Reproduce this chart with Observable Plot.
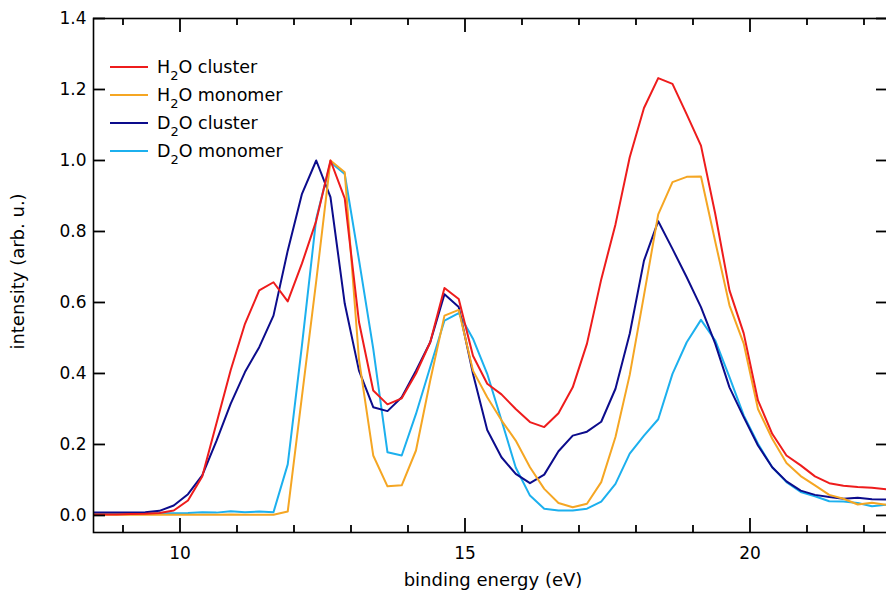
<!DOCTYPE html>
<html><head><meta charset="utf-8">
<script src="https://cdn.jsdelivr.net/npm/d3@7"></script>
<script src="https://cdn.jsdelivr.net/npm/@observablehq/plot@0.6"></script>
<style>
body{margin:0;background:#fff;}
#wrap{position:relative;width:886px;height:593px;font-family:"DejaVu Sans",sans-serif;}
.legend{position:absolute;left:110px;top:53px;}
.row{display:flex;align-items:center;height:28px;font-size:17.5px;color:#000;white-space:nowrap;}
.swatch{width:38px;height:2px;margin-right:9px;}
.sub{font-size:13px;position:relative;top:7px;}
</style></head>
<body><div id="wrap"></div>
<script>
const energy = [8.39, 8.64, 8.89, 9.14, 9.39, 9.64, 9.89, 10.14, 10.39, 10.64, 10.89, 11.14, 11.39, 11.64, 11.89, 12.14, 12.39, 12.64, 12.89, 13.14, 13.39, 13.64, 13.89, 14.14, 14.39, 14.64, 14.89, 15.14, 15.39, 15.64, 15.89, 16.14, 16.39, 16.64, 16.89, 17.14, 17.39, 17.64, 17.89, 18.14, 18.39, 18.64, 18.89, 19.14, 19.39, 19.64, 19.89, 20.14, 20.39, 20.64, 20.89, 21.14, 21.39, 21.64, 21.89, 22.14, 22.39];

const h2oCluster = [0.003, 0.003, 0.003, 0.004, 0.005, 0.007, 0.014, 0.042, 0.11, 0.26, 0.41, 0.54, 0.634, 0.657, 0.603, 0.71, 0.83, 1.0, 0.893, 0.545, 0.352, 0.313, 0.33, 0.40, 0.488, 0.641, 0.61, 0.45, 0.371, 0.341, 0.30, 0.263, 0.249, 0.288, 0.361, 0.484, 0.665, 0.82, 1.009, 1.148, 1.232, 1.216, 1.13, 1.042, 0.85, 0.634, 0.513, 0.324, 0.23, 0.169, 0.141, 0.11, 0.091, 0.084, 0.08, 0.078, 0.074];

const h2oMonomer = [0.002, 0.002, 0.002, 0.002, 0.002, 0.002, 0.002, 0.002, 0.002, 0.002, 0.003, 0.002, 0.002, 0.002, 0.011, 0.336, 0.66, 1.0, 0.967, 0.44, 0.169, 0.082, 0.085, 0.183, 0.38, 0.563, 0.579, 0.408, 0.333, 0.268, 0.211, 0.136, 0.075, 0.035, 0.023, 0.033, 0.094, 0.221, 0.396, 0.62, 0.848, 0.939, 0.954, 0.955, 0.772, 0.592, 0.484, 0.30, 0.216, 0.148, 0.111, 0.085, 0.058, 0.047, 0.031, 0.036, 0.03];

const d2oCluster = [0.008, 0.008, 0.008, 0.008, 0.009, 0.013, 0.028, 0.06, 0.113, 0.21, 0.315, 0.404, 0.474, 0.563, 0.746, 0.906, 1.0, 0.897, 0.597, 0.408, 0.305, 0.294, 0.333, 0.408, 0.488, 0.623, 0.587, 0.399, 0.241, 0.164, 0.117, 0.091, 0.115, 0.181, 0.225, 0.236, 0.264, 0.357, 0.512, 0.718, 0.829, 0.751, 0.671, 0.587, 0.484, 0.361, 0.277, 0.197, 0.136, 0.096, 0.070, 0.058, 0.052, 0.047, 0.05, 0.046, 0.045];

const d2oMonomer = [0.004, 0.004, 0.005, 0.005, 0.005, 0.006, 0.006, 0.007, 0.009, 0.008, 0.012, 0.009, 0.011, 0.009, 0.144, 0.48, 0.836, 0.995, 0.962, 0.72, 0.47, 0.178, 0.169, 0.286, 0.418, 0.549, 0.57, 0.498, 0.399, 0.268, 0.135, 0.056, 0.019, 0.014, 0.014, 0.019, 0.039, 0.089, 0.174, 0.225, 0.271, 0.399, 0.488, 0.551, 0.493, 0.39, 0.282, 0.202, 0.136, 0.094, 0.066, 0.054, 0.04, 0.039, 0.035, 0.026, 0.03];

const seriesNames = ["H2O cluster", "H2O monomer", "D2O cluster", "D2O monomer"];
const seriesColors = ["#ee1c1c", "#f5a623", "#0c0c8c", "#1cb0ee"];
const seriesValues = [h2oCluster, h2oMonomer, d2oCluster, d2oMonomer];

const xMajorTicks = [10, 15, 20];
const xMinorTicks = [9, 11, 12, 13, 14, 16, 17, 18, 19, 21, 22];
const yTicks = [0, 0.2, 0.4, 0.6, 0.8, 1.0, 1.2, 1.4];
const xLabel = "binding energy (eV)";
const yLabel = "intensity (arb. u.)";

const drawOrder = [3, 2, 1, 0];
const fmt = d3.format(".1f");
const font = "DejaVu Sans";

const W = 886, H = 593, mL = 93, mR = -2, mT = 18, mB = 61;
const frameW = W - mL - mR, frameH = H - mT - mB;
const majorLen = 14, minorLen = 7, yLen = 12;
const tickStyle = {stroke: "black", strokeWidth: 1.8};

const plot = Plot.plot({
  width: W, height: H,
  marginLeft: mL, marginRight: mR, marginTop: mT, marginBottom: mB,
  style: {fontFamily: font, fontSize: "17px", background: "white", color: "black", overflow: "hidden"},
  x: {domain: [8.4825, 22.43], axis: null},
  y: {domain: [-0.048, 1.4], axis: null},
  marks: [
    ...drawOrder.map(i => Plot.line(seriesValues[i], {x: energy, y: d => d, stroke: seriesColors[i], strokeWidth: 2, clip: true})),
    Plot.frame({stroke: "black", strokeWidth: 1.6}),
    // inward ticks, bottom
    Plot.ruleX(xMajorTicks, {x: d => d, insetTop: frameH - majorLen, ...tickStyle}),
    Plot.ruleX(xMinorTicks, {x: d => d, insetTop: frameH - minorLen, ...tickStyle}),
    // inward ticks, top
    Plot.ruleX(xMajorTicks, {x: d => d, insetBottom: frameH - majorLen, ...tickStyle}),
    Plot.ruleX(xMinorTicks, {x: d => d, insetBottom: frameH - minorLen, ...tickStyle}),
    // inward ticks, left and right
    Plot.ruleY(yTicks, {y: d => d, insetRight: frameW - yLen, ...tickStyle}),
    Plot.ruleY(yTicks, {y: d => d, insetLeft: frameW - yLen, ...tickStyle}),
    // tick labels
    Plot.axisX(xMajorTicks, {anchor: "bottom", tickSize: 0, tickPadding: 14, label: null, fontSize: 17, fontFamily: font}),
    Plot.axisY(yTicks, {anchor: "left", tickSize: 0, tickPadding: 7, tickFormat: fmt, label: null, fontSize: 17, fontFamily: font}),
    // axis titles
    Plot.text([xLabel], {text: d => d, frameAnchor: "bottom", dy: 48, dx: 2, lineAnchor: "middle", fontSize: 18, fontFamily: font}),
    Plot.text([yLabel], {text: d => d, frameAnchor: "left", rotate: -90, dx: -75, dy: -4, lineAnchor: "middle", textAnchor: "middle", fontSize: 18, fontFamily: font})
  ]
});
const wrap = document.getElementById("wrap");
wrap.appendChild(plot);

const legend = document.createElement("div");
legend.className = "legend";
seriesNames.forEach((name, i) => {
  const row = document.createElement("div");
  row.className = "row";
  const sw = document.createElement("span");
  sw.className = "swatch";
  sw.style.background = seriesColors[i];
  row.appendChild(sw);
  const label = document.createElement("span");
  const [a, rest] = [name.slice(0, 1), name.slice(2)];
  label.innerHTML = `${a}<span class="sub">2</span>${rest}`;
  row.appendChild(label);
  legend.appendChild(row);
});
wrap.appendChild(legend);
</script>
</body></html>
